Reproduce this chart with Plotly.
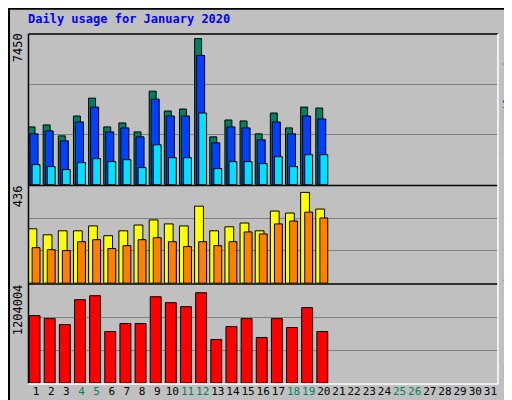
import plotly.graph_objects as go

days = list(range(1, 21))
hits = [2860, 2958, 2418, 3399, 4281, 2860, 3056, 2614, 4624, 3644,
        3742, 7222, 2369, 3203, 3154, 2516, 3546, 2810, 3840, 3791]
files = [2516, 2663, 2173, 3105, 3840, 2614, 2810, 2369, 4232, 3399,
         3399, 6389, 2075, 2860, 2810, 2222, 3105, 2516, 3399, 3252]
pages = [997, 899, 752, 1095, 1291, 1144, 1242, 850, 1977, 1340,
         1340, 3546, 801, 1144, 1144, 1046, 1389, 899, 1487, 1487]
visits = [245, 218, 236, 236, 258, 214, 236, 262, 285, 267,
          258, 347, 236, 254, 271, 236, 325, 316, 409, 334]
sites = [160, 151, 147, 187, 196, 156, 169, 196, 205, 187,
         165, 187, 169, 187, 231, 222, 267, 280, 320, 294]
kbytes = [827016, 790530, 717558, 1021608, 1070256, 632424, 729720, 729720, 1058094, 985122,
          936474, 1106742, 535128, 693234, 790530, 559452, 790530, 681072, 924312, 632424]
max_hits, max_visits, max_kb = 7450, 436, 1204004
weekend = [4, 5, 11, 12, 18, 19, 25, 26]

font = "DejaVu Sans Mono"
fig = go.Figure()
line = dict(color="black", width=1)

def bar(y, color, off, w, ax):
    fig.add_trace(go.Bar(x=days, y=y, marker=dict(color=color, line=line),
                         offset=off, width=w, xaxis="x" if ax == "y" else "x" + ax[1:],
                         yaxis=ax, showlegend=False))

bar(hits, "#008060", -0.53, 0.46, "y")
bar(files, "#0040ff", -0.4, 0.53, "y")
bar(pages, "#00e0ff", -0.26, 0.52, "y")
bar(visits, "#ffff00", -0.53, 0.58, "y2")
bar(sites, "#ff8000", -0.26, 0.52, "y2")
bar(kbytes, "#ff0000", -0.46, 0.72, "y3")

ticktext = [f"<span style='color:#008060'>{d}</span>" if d in weekend else str(d)
            for d in range(1, 32)]
xcommon = dict(range=[0.5, 31.5], showgrid=False, zeroline=False, fixedrange=True)
fig.update_layout(
    width=512, height=400, margin=dict(l=0, r=0, t=0, b=0, autoexpand=False),
    paper_bgcolor="#c0c0c0", plot_bgcolor="#c0c0c0", barmode="overlay",
    font=dict(family=font, size=12, color="black"),
    xaxis=dict(domain=[0.04, 0.957], anchor="y", showticklabels=False, **xcommon),
    xaxis2=dict(domain=[0.04, 0.957], anchor="y2", showticklabels=False, **xcommon),
    xaxis3=dict(domain=[0.04, 0.957], anchor="y3", tickvals=list(range(1, 32)),
                ticktext=ticktext, ticks="", tickangle=0, tickfont=dict(size=11), **xcommon),
    yaxis=dict(domain=[0.558, 0.935], range=[0, max_hits], tickvals=[max_hits / 3, 2 * max_hits / 3],
               showticklabels=False, gridcolor="#808080", zeroline=False),
    yaxis2=dict(domain=[0.312, 0.554], range=[0, max_visits], tickvals=[max_visits / 3, 2 * max_visits / 3],
                showticklabels=False, gridcolor="#808080", zeroline=False),
    yaxis3=dict(domain=[0.062, 0.308], range=[0, max_kb], tickvals=[max_kb / 3, 2 * max_kb / 3],
                showticklabels=False, gridcolor="#808080", zeroline=False),
)

# frames
fig.add_shape(type="rect", xref="paper", yref="paper", x0=0.002, x1=0.998, y0=0.002, y1=0.998,
              line=dict(color="black", width=2))
for y0 in [0.935, 0.556, 0.31]:
    fig.add_shape(type="line", xref="paper", yref="paper", x0=0.04, x1=0.957, y0=y0, y1=y0,
                  line=dict(color="black", width=1.5))
fig.add_shape(type="line", xref="paper", yref="paper", x0=0.04, x1=0.04, y0=0.062, y1=0.935,
              line=dict(color="black", width=1.5))
fig.add_shape(type="line", xref="paper", yref="paper", x0=0.04, x1=0.957, y0=0.06, y1=0.06,
              line=dict(color="white", width=1.5))
fig.add_shape(type="line", xref="paper", yref="paper", x0=0.957, x1=0.957, y0=0.06, y1=0.935,
              line=dict(color="white", width=1.5))

fig.add_annotation(text="<b>Daily usage for January 2020</b>", xref="paper", yref="paper",
                   x=0.035, y=0.995, xanchor="left", yanchor="top", showarrow=False,
                   font=dict(color="#0000ff", size=12))
for txt, y in [(str(max_hits), 0.9), (str(max_visits), 0.53), (str(max_kb), 0.245)]:
    fig.add_annotation(text=txt, xref="paper", yref="paper", x=0.02, y=y, textangle=-90,
                       xanchor="center", yanchor="middle", showarrow=False, font=dict(size=12))
slash = "<span style='color:black'>/</span>"
right = [
    (f"<span style='color:#00e0ff'>Pages</span>{slash}<span style='color:#0040ff'>Files</span>{slash}<span style='color:#008060'>Hits</span>", 0.76),
    (f"<span style='color:#ff8000'>Sites</span>{slash}<span style='color:#e0e000'>Visits</span>", 0.40),
    ("<span style='color:#ff0000'>KBytes</span>", 0.13),
]
for txt, y in right:
    fig.add_annotation(text=txt, xref="paper", yref="paper", x=0.978, y=y, textangle=-90,
                       xanchor="center", yanchor="middle", showarrow=False, font=dict(size=12))

fig.write_html("out.html")
